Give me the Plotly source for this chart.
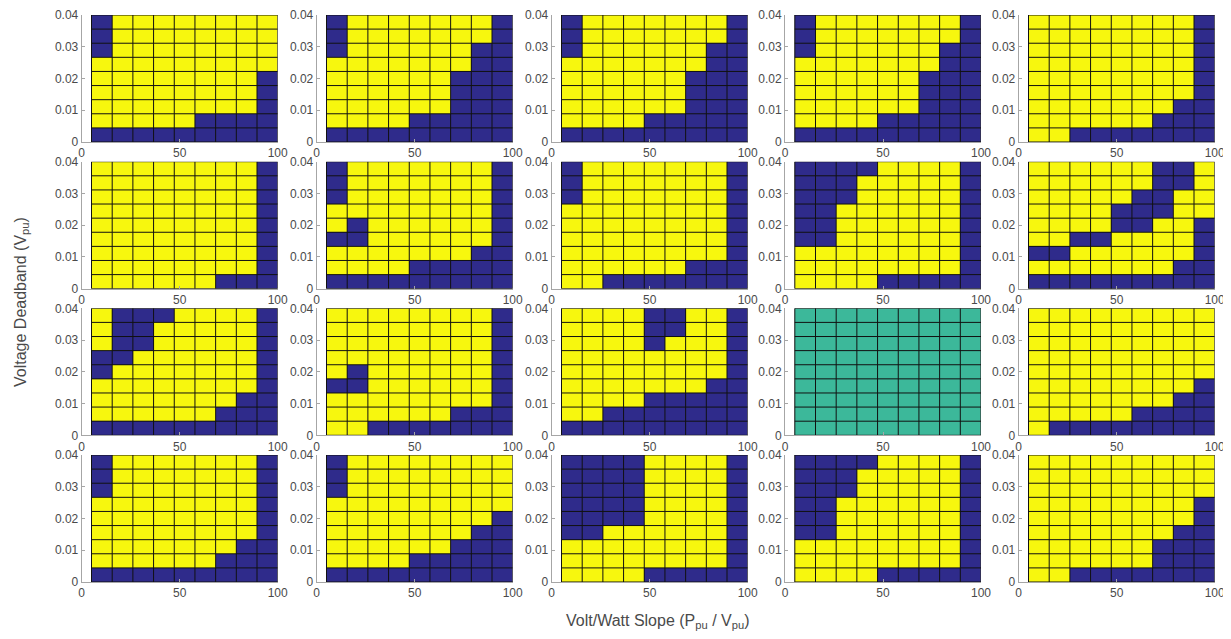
import plotly.graph_objects as go

# ---- data -------------------------------------------------------------
# Cell edges (9 x 9 grid per panel)
slope_edges = [5, 15.56, 26.11, 36.67, 47.22, 57.78, 68.33, 78.89, 89.44, 100]
deadband_edges = [0, 0.00444, 0.00889, 0.01333, 0.01778, 0.02222,
                  0.02667, 0.03111, 0.03556, 0.04]

x_ticks = [0, 50, 100]
x_tick_labels = ["0", "50", "100"]
y_ticks = [0, 0.01, 0.02, 0.03, 0.04]
y_tick_labels = ["0", "0.01", "0.02", "0.03", "0.04"]

# Each panel: rows listed top (0.04) -> bottom (0); B = blue (0), Y = yellow (1), G = green (0.5)
panel_01 = ["BYYYYYYYY", "BYYYYYYYY", "BYYYYYYYY", "YYYYYYYYY", "YYYYYYYYB",
            "YYYYYYYYB", "YYYYYYYYB", "YYYYYBBBB", "BBBBBBBBB"]
panel_02 = ["BYYYYYYYB", "BYYYYYYYB", "BYYYYYYBB", "YYYYYYYBB", "YYYYYYBBB",
            "YYYYYYBBB", "YYYYYYBBB", "YYYYBBBBB", "BBBBBBBBB"]
panel_03 = ["BYYYYYYYB", "BYYYYYYYB", "BYYYYYYBB", "YYYYYYYBB", "YYYYYYBBB",
            "YYYYYYBBB", "YYYYYYBBB", "YYYYBBBBB", "BBBBBBBBB"]
panel_04 = ["BYYYYYYYB", "BYYYYYYYB", "BYYYYYYBB", "YYYYYYYBB", "YYYYYYBBB",
            "YYYYYYBBB", "YYYYYYBBB", "YYYYBBBBB", "BBBBBBBBB"]
panel_05 = ["YYYYYYYYB", "YYYYYYYYB", "YYYYYYYYB", "YYYYYYYYB", "YYYYYYYYB",
            "YYYYYYYYB", "YYYYYYYBB", "YYYYYYBBB", "YYBBBBBBB"]
panel_06 = ["YYYYYYYYB", "YYYYYYYYB", "YYYYYYYYB", "YYYYYYYYB", "YYYYYYYYB",
            "YYYYYYYYB", "YYYYYYYYB", "YYYYYYYYB", "YYYYYYBBB"]
panel_07 = ["BYYYYYYYB", "BYYYYYYYB", "BYYYYYYYB", "YYYYYYYYB", "YBYYYYYYB",
            "BBYYYYYYB", "YYYYYYYBB", "YYYYBBBBB", "BBBBBBBBB"]
panel_08 = ["BYYYYYYYB", "BYYYYYYYB", "BYYYYYYYB", "YYYYYYYYB", "YYYYYYYYB",
            "YYYYYYYYB", "YYYYYYYYB", "YYYYYYBBB", "YYBBBBBBB"]
panel_09 = ["BBBBYYYYB", "BBBYYYYYB", "BBBYYYYYB", "BBYYYYYYB", "BBYYYYYYB",
            "BBYYYYYYB", "YYYYYYYYB", "YYYYYYYYB", "YYYYBBBBB"]
panel_10 = ["YYYYYYBBY", "YYYYYYBBY", "YYYYYBBYY", "YYYYBBBYY", "YYYYBBYYB",
            "YYBBYYYYB", "BBYYYYYYB", "YYYYYYYBB", "BBBBBBBBB"]
panel_11 = ["YBBBYYYYB", "YBBYYYYYB", "YBBYYYYYB", "BBYYYYYYB", "BYYYYYYYB",
            "YYYYYYYYB", "YYYYYYYBB", "YYYYYYBBB", "BBBBBBBBB"]
panel_12 = ["YYYYYYYYB", "YYYYYYYYB", "YYYYYYYYB", "YYYYYYYYB", "YBYYYYYYB",
            "BBYYYYYYB", "YYYYYYYYB", "YYYYYYBBB", "YYBBBBBBB"]
panel_13 = ["YYYYBBYYB", "YYYYBBYYB", "YYYYBYYYB", "YYYYYYYYB", "YYYYYYYYB",
            "YYYYYYYBB", "YYYYBBBBB", "YYBBBBBBB", "BBBBBBBBB"]
panel_14 = ["GGGGGGGGG"] * 9
panel_15 = ["YYYYYYYYY", "YYYYYYYYY", "YYYYYYYYY", "YYYYYYYYY", "YYYYYYYYY",
            "YYYYYYYYB", "YYYYYYYBB", "YYYYYBBBB", "YBBBBBBBB"]
panel_16 = ["BYYYYYYYB", "BYYYYYYYB", "BYYYYYYYB", "YYYYYYYYB", "YYYYYYYYB",
            "YYYYYYYYB", "YYYYYYYBB", "YYYYYYBBB", "BBBBBBBBB"]
panel_17 = ["BYYYYYYYY", "BYYYYYYYY", "BYYYYYYYY", "YYYYYYYYY", "YYYYYYYYB",
            "YYYYYYYBB", "YYYYYYBBB", "YYYYBBBBB", "BBBBBBBBB"]
panel_18 = ["BBBBYYYYB", "BBBBYYYYB", "BBBBYYYYB", "BBBBYYYYB", "BBBBYYYYB",
            "BBYYYYYYB", "YYYYYYYYB", "YYYYYYYYB", "YYYYBBBBB"]
panel_19 = ["BBBBYYYYB", "BBBYYYYYB", "BBBYYYYYB", "BBYYYYYYB", "BBYYYYYYB",
            "BBYYYYYYB", "YYYYYYYYB", "YYYYYYYYB", "YYYYBBBBB"]
panel_20 = ["YYYYYYYYY", "YYYYYYYYY", "YYYYYYYYY", "YYYYYYYYB", "YYYYYYYYB",
            "YYYYYYYBB", "YYYYYYBBB", "YYYYYYBBB", "YYBBBBBBB"]

panels = [panel_01, panel_02, panel_03, panel_04, panel_05,
          panel_06, panel_07, panel_08, panel_09, panel_10,
          panel_11, panel_12, panel_13, panel_14, panel_15,
          panel_16, panel_17, panel_18, panel_19, panel_20]

code_value = {"B": 0.0, "G": 0.5, "Y": 1.0}

# ---- styling ----------------------------------------------------------
BLUE = "#2f2b8b"
YELLOW = "#f7f70e"
GREEN = "#3cb89a"
TEXT = "#4a4a4a"
AXIS = "#a6a6a6"
FONT = "Liberation Sans, Arial, sans-serif"

VIEW_W, VIEW_H = 1231, 639
OFF = 8  # page body margin that offsets the plot div
W, H = VIEW_W - OFF, VIEW_H - OFF
col_left_px = [81.7, 316.7, 551.7, 785.0, 1018.7]   # viewport pixels
row_top_px = [15.0, 161.7, 308.3, 455.0]
panel_w_px = 196.0
panel_h_px = 127.0


def px_x(v):
    return (v - OFF) / W


def px_y(v):
    return 1 - (v - OFF) / H


colorscale = [[0.0, BLUE], [0.25, BLUE], [0.25, GREEN], [0.75, GREEN],
              [0.75, YELLOW], [1.0, YELLOW]]

fig = go.Figure()
layout_axes = {}

for i, grid in enumerate(panels):
    r, c = divmod(i, 5)
    n = i + 1
    xa = "x" if n == 1 else f"x{n}"
    ya = "y" if n == 1 else f"y{n}"
    z = [[code_value[ch] for ch in row] for row in reversed(grid)]

    fig.add_trace(go.Heatmap(
        x=slope_edges, y=deadband_edges, z=z,
        zmin=0, zmax=1, colorscale=colorscale, showscale=False,
        hoverinfo="skip", xaxis=xa, yaxis=ya))

    # cell borders derived from the edge arrays
    lx, ly = [], []
    for xe in slope_edges:
        lx += [xe, xe, None]
        ly += [deadband_edges[0], deadband_edges[-1], None]
    for ye in deadband_edges:
        lx += [slope_edges[0], slope_edges[-1], None]
        ly += [ye, ye, None]
    fig.add_trace(go.Scatter(x=lx, y=ly, mode="lines",
                             line=dict(color="#111111", width=1),
                             hoverinfo="skip", showlegend=False,
                             xaxis=xa, yaxis=ya))

    x0 = px_x(col_left_px[c])
    x1 = px_x(col_left_px[c] + panel_w_px)
    y1 = px_y(row_top_px[r])
    y0 = px_y(row_top_px[r] + panel_h_px)
    xkey = "xaxis" if n == 1 else f"xaxis{n}"
    ykey = "yaxis" if n == 1 else f"yaxis{n}"
    layout_axes[xkey] = dict(
        domain=[x0, x1], anchor=ya, range=[0, 100],
        tickvals=x_ticks, ticktext=x_tick_labels,
        ticks="inside", ticklen=3, tickcolor=AXIS,
        showline=True, linecolor=AXIS, linewidth=1,
        showgrid=False, zeroline=False, automargin=False,
        tickfont=dict(family=FONT, size=12, color=TEXT), fixedrange=True)
    layout_axes[ykey] = dict(
        domain=[y0, y1], anchor=xa, range=[0, 0.04],
        tickvals=y_ticks, ticktext=y_tick_labels,
        ticks="inside", ticklen=3, tickcolor=AXIS,
        showline=True, linecolor=AXIS, linewidth=1,
        showgrid=False, zeroline=False, automargin=False,
        tickfont=dict(family=FONT, size=12, color=TEXT), fixedrange=True)

fig.update_layout(
    width=W, height=H,
    margin=dict(l=0, r=0, t=0, b=0, pad=0, autoexpand=False),
    paper_bgcolor="white", plot_bgcolor="white",
    showlegend=False,
    font=dict(family=FONT, color=TEXT),
    annotations=[
        dict(text="Volt/Watt Slope (P<sub>pu</sub> / V<sub>pu</sub>)",
             x=px_x(658), y=px_y(621), xref="paper", yref="paper",
             xanchor="center", yanchor="middle",
             showarrow=False, font=dict(family=FONT, size=16, color=TEXT)),
        dict(text="Voltage Deadband (V<sub>pu</sub>)",
             x=px_x(21), y=px_y(302), xref="paper", yref="paper",
             xanchor="center", yanchor="middle",
             textangle=-90, showarrow=False,
             font=dict(family=FONT, size=16, color=TEXT)),
    ],
    **layout_axes,
)

fig.write_html("out.html")
